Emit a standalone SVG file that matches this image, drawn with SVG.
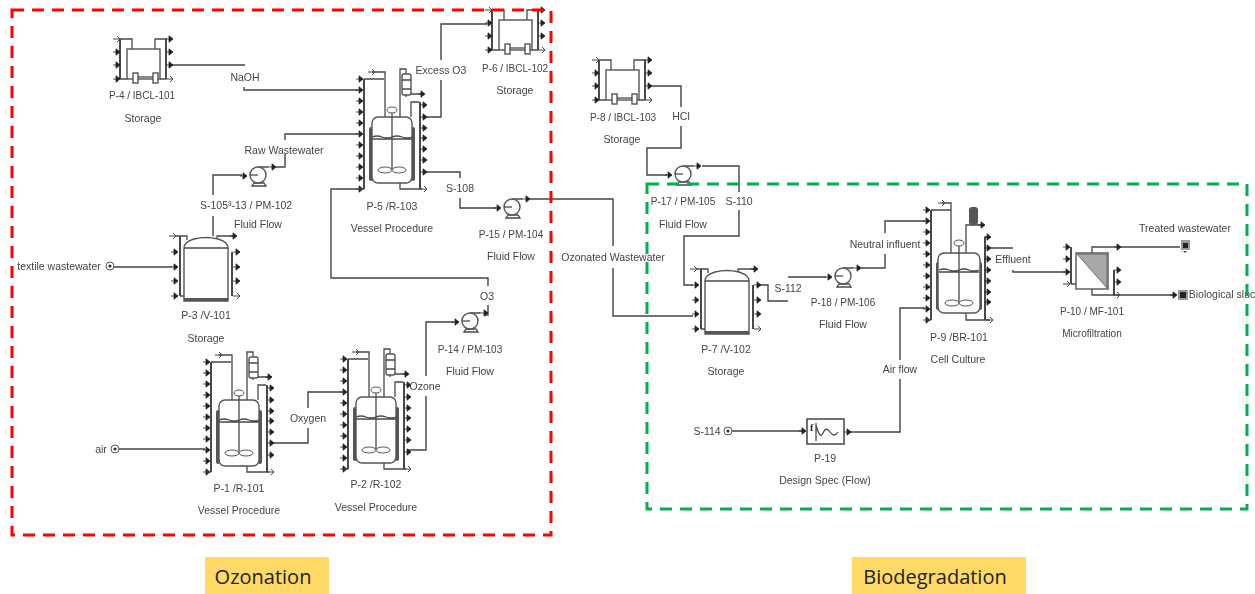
<svg xmlns="http://www.w3.org/2000/svg" width="1255" height="594" viewBox="0 0 1255 594">
<style>
.p{fill:none;stroke:#4a4a4a;stroke-width:1.3}
.pb{fill:none;stroke:#4a4a4a;stroke-width:2}
.c{fill:none;stroke:#444;stroke-width:1.4}
.b{fill:#fff;stroke:#555;stroke-width:1.4}
.d{fill:#555;stroke:none}
.t{font-family:"Liberation Sans",Arial,sans-serif;font-size:10.5px;fill:#444;text-anchor:middle}
.id{font-size:10px}
.hd{font-family:"Open Sans","Noto Sans",sans-serif;font-size:20px;fill:#222;text-anchor:middle}
.box{fill:none;stroke-width:3;stroke-dasharray:12 8}
</style>
<defs>
<filter id="soft" x="-2%" y="-2%" width="104%" height="104%"><feGaussianBlur stdDeviation="0.4"/></filter>
<path id="a" d="M-4,0H0M-1,-3.2L3,0L-1,3.2Z" fill="#222" stroke="#222" stroke-width="0.8"/>
<path id="h" d="M-4,0H2M0,-3L3,0L0,3" fill="none" stroke="#444" stroke-width="1"/>
<g id="leftcol">
<path class="pb" d="M4,0V110"/>
<use href="#a" y="0"/><use href="#a" y="11"/><use href="#a" y="22"/><use href="#a" y="33"/><use href="#a" y="44"/><use href="#a" y="55"/><use href="#a" y="66"/><use href="#a" y="77"/><use href="#a" y="88"/><use href="#a" y="99"/><use href="#a" y="110"/>
<path class="p" d="M4,0H24M4,110H0"/>
</g>
<g id="inner">
<path class="p" d="M0,-7V52M-20,20q5,-2 10,0t10,0t10,0t10,0M-20,22H20"/>
<ellipse cx="0" cy="-7" rx="5" ry="3" fill="#fff" stroke="#555"/>
<ellipse cx="-7" cy="53" rx="7" ry="3" fill="#fff" stroke="#555"/>
<ellipse cx="7" cy="53" rx="7" ry="3" fill="#fff" stroke="#555"/>
</g>
<g id="reactor">
<use href="#leftcol" x="-32" y="-38"/>
<use href="#h" x="-20" y="-45"/>
<path class="p" d="M-20,-45H-7V0"/>
<rect class="d" x="-23" y="10" width="4" height="54" rx="2"/>
<rect class="d" x="19" y="10" width="4" height="54" rx="2"/>
<rect class="b" x="-20" y="0" width="40" height="66" rx="6"/>
<use href="#inner"/>
<path class="p" d="M8,0V-48H14V-43M14,-22V-20M14,-23H30M19,0V-15H27M8,66V72H30"/>
<path class="pb" d="M28,-15V72"/>
<rect class="b" x="10" y="-43" width="9" height="21" rx="2"/>
<path class="p" d="M10,-37H19M10,-28H19"/>
<use href="#a" x="30" y="-23"/>
<use href="#a" x="32" y="-12"/><use href="#a" x="32" y="0"/><use href="#a" x="32" y="11"/><use href="#a" x="32" y="21"/><use href="#a" x="32" y="32"/><use href="#a" x="32" y="43"/><use href="#a" x="32" y="55"/>
<use href="#h" x="32" y="72"/>
</g>
<g id="tote">
<path class="pb" d="M-7,-10V30M39,-10V30"/>
<path class="p" d="M-8,-10H5V0M40,-10H28V0M-7,30H0M33,30H39"/>
<rect class="b" x="0" y="0" width="33" height="30"/>
<rect class="b" x="6" y="24" width="5" height="10"/>
<rect class="b" x="26" y="24" width="5" height="10"/>
<path class="p" d="M11,28H26"/>
<use href="#h" x="-10" y="-10"/><use href="#a" x="-10" y="3"/><use href="#a" x="-10" y="16"/><use href="#a" x="-10" y="30"/>
<use href="#a" x="43" y="-10"/><use href="#a" x="43" y="3"/><use href="#a" x="43" y="16"/><use href="#h" x="43" y="30"/>
</g>
<g id="tank">
<path class="pb" d="M-4,0V60M48,16V60"/>
<path class="p" d="M-8,0H3V4M33,4V0H50M-4,60H0"/>
<path class="b" d="M0,65V12Q0,6 10,3Q22,0 34,3Q44,6 44,12V65Z"/>
<path class="p" d="M0,12H44"/>
<rect class="d" x="0" y="62" width="44" height="3"/>
<use href="#h" x="-11" y="0"/><use href="#a" x="-9" y="16"/><use href="#a" x="-9" y="31"/><use href="#a" x="-9" y="45"/><use href="#a" x="-9" y="60"/>
<use href="#a" x="50" y="0"/><use href="#a" x="53" y="16"/><use href="#a" x="53" y="31"/><use href="#a" x="53" y="45"/><use href="#h" x="53" y="60"/>
</g>
<g id="pump">
<path class="p" d="M-6,11H8L6,8H-4ZM0,-8H10V-9"/>
<circle class="b" cx="0" cy="0" r="8"/>
<path class="p" d="M-8,0H0"/>
<use href="#a" x="-14" y="1"/>
<use href="#a" x="15" y="-8"/>
</g>
<g id="src"><circle cx="0" cy="0" r="4" fill="#fff" stroke="#555"/><circle cx="0" cy="0" r="1.6" fill="#333"/></g>
</defs>

<g filter="url(#soft)">
<g id="connectors">
<path class="c" d="M170,65H245M244,87V90H358"/>
<path class="c" d="M213,236V216M213,195V175H242M276,167H285V154M285,140V134H358"/>
<path class="c" d="M114,267H172"/>
<path class="c" d="M358,189H331V278H488V286M488,305V315H484"/>
<path class="c" d="M424,117H441V80M441,60V24H487"/>
<path class="c" d="M424,172H460V178M460,198V208H496"/>
<path class="c" d="M530,199H613V246M613,268V316H693"/>
<path class="c" d="M649,86H681V107M681,126V148H647V175H667"/>
<path class="c" d="M702,166H739V192M739,210V236H684V285H693"/>
<path class="c" d="M757,285H768V301H788M788,277H826"/>
<path class="c" d="M861,268H885V254M885,233V221H925"/>
<path class="c" d="M925,308H900V360M900,379V432H850"/>
<path class="c" d="M732,431H805"/>
<path class="c" d="M988,248H1013M1013,270V272H1066"/>
<path class="c" d="M119,449H205"/>
<path class="c" d="M271,443H308V428M308,408V392H342"/>
<path class="c" d="M408,450H426V396M426,376V322H454"/>
<path class="c" d="M1118,247H1180M1118,295H1176"/>
</g>

<g id="P-4"><use href="#tote" x="127" y="49"/><text class="t id" x="142" y="99">P-4 / IBCL-101</text><text class="t" x="143" y="122">Storage</text></g>
<g id="P-6"><use href="#tote" x="499" y="20"/><text class="t id" x="515" y="72">P-6 / IBCL-102</text><text class="t" x="515" y="94">Storage</text></g>
<g id="P-8"><use href="#tote" x="606" y="70"/><text class="t id" x="623" y="121">P-8 / IBCL-103</text><text class="t" x="622" y="143">Storage</text></g>
<g id="P-5"><use href="#reactor" x="392" y="117"/><text class="t" x="392" y="210">P-5 /R-103</text><text class="t" x="392" y="232">Vessel Procedure</text></g>
<g id="P-1"><use href="#reactor" x="239" y="400"/><text class="t" x="239" y="492">P-1 /R-101</text><text class="t" x="239" y="514">Vessel Procedure</text></g>
<g id="P-2"><use href="#reactor" x="376" y="397"/><text class="t" x="376" y="488">P-2 /R-102</text><text class="t" x="376" y="511">Vessel Procedure</text></g>
<g id="P-3"><use href="#tank" x="184" y="236"/><text class="t" x="206" y="319">P-3 /V-101</text><text class="t" x="206" y="342">Storage</text></g>
<g id="P-7"><use href="#tank" x="705" y="269"/><text class="t" x="726" y="353">P-7 /V-102</text><text class="t" x="726" y="375">Storage</text></g>
<g id="P-13"><use href="#pump" x="258" y="175"/><text class="t" style="text-anchor:start" x="200" y="209">S-105³-13 / PM-102</text><text class="t" x="258" y="228">Fluid Flow</text></g>
<g id="P-15"><use href="#pump" x="512" y="207"/><text class="t id" x="511" y="238">P-15 / PM-104</text><text class="t" x="511" y="260">Fluid Flow</text></g>
<g id="P-14"><use href="#pump" x="470" y="321"/><text class="t id" x="470" y="353">P-14 / PM-103</text><text class="t" x="470" y="375">Fluid Flow</text></g>
<g id="P-17"><use href="#pump" x="683" y="174"/><text class="t id" x="683" y="205">P-17 / PM-105</text><text class="t" x="683" y="228">Fluid Flow</text></g>
<g id="P-18"><use href="#pump" x="843" y="276"/><text class="t id" x="843" y="306">P-18 / PM-106</text><text class="t" x="843" y="328">Fluid Flow</text></g>
<g id="P-9">
<use href="#leftcol" x="927" y="210"/>
<use href="#h" x="942" y="203"/>
<path class="p" d="M942,203H951V253M966,253V225H982M966,313V320H990M985,237H990"/>
<path class="pb" d="M985,237V320"/>
<rect class="d" x="936" y="262" width="4" height="48" rx="2"/><rect class="d" x="978" y="262" width="4" height="48" rx="2"/>
<rect class="b" x="938" y="253" width="42" height="60" rx="6"/>
<use href="#inner" x="959" y="250"/>
<rect class="d" x="969" y="207" width="9" height="18" rx="3"/>
<use href="#a" x="982" y="225"/>
<use href="#a" x="988" y="237"/><use href="#a" x="988" y="248"/><use href="#a" x="988" y="259"/><use href="#a" x="988" y="270"/><use href="#a" x="988" y="281"/><use href="#a" x="988" y="292"/><use href="#a" x="988" y="302"/><use href="#h" x="990" y="320"/>
<text class="t" x="959" y="341">P-9 /BR-101</text><text class="t" x="958" y="363">Cell Culture</text>
</g>
<g id="P-10">
<path class="pb" d="M1071,247V284M1114,270V295"/>
<path class="p" d="M1071,284H1076M1092,253V247H1118M1092,289V295H1118"/>
<rect class="b" x="1076" y="253" width="32" height="36"/>
<path d="M1077,254H1107V288Z" fill="#a8a8a8" stroke="#555" stroke-width="0.8"/>
<use href="#a" x="1067" y="247"/><use href="#a" x="1067" y="259"/><use href="#a" x="1067" y="272"/><use href="#h" x="1067" y="284"/>
<use href="#a" x="1118" y="247"/><use href="#a" x="1118" y="270"/><use href="#a" x="1118" y="282"/><use href="#h" x="1117" y="295"/>
<text class="t id" x="1092" y="315">P-10 / MF-101</text><text class="t id" x="1092" y="337">Microfiltration</text>
</g>
<g id="P-19">
<rect x="807" y="419" width="37" height="25" fill="#fff" stroke="#444" stroke-width="1.5"/>
<text x="810" y="431" style="font-family:'Liberation Serif',serif;font-size:10px;font-weight:bold;fill:#222">f</text>
<path class="p" d="M816,423V441M816,425Q820,440 823,433T830,432T838,432"/>
<use href="#a" x="803" y="431"/><use href="#a" x="848" y="432"/>
<text class="t" x="825" y="462">P-19</text><text class="t" x="825" y="484">Design Spec (Flow)</text>
</g>
<g id="S-textile"><use href="#src" x="110" y="266"/></g>
<g id="S-air"><use href="#src" x="115" y="449"/></g>
<g id="S-114"><use href="#src" x="728" y="431"/></g>
<g id="sink-treated"><rect x="1181" y="240" width="9" height="10" fill="#999"/><rect x="1183" y="243" width="5" height="5" fill="#222"/><path d="M1183,251h4l-2,2z" fill="#444"/></g>
<g id="sink-sludge"><rect x="1178" y="290" width="10" height="10" fill="#999"/><rect x="1180" y="292" width="6" height="6" fill="#222"/><use href="#a" x="1174" y="295"/></g>

<g id="labels">
<text class="t" x="245" y="81">NaOH</text>
<text class="t" x="284" y="154">Raw Wastewater</text>
<text class="t" x="59" y="270">textile wastewater</text>
<text class="t" x="441" y="74">Excess O3</text>
<text class="t" x="460" y="192">S-108</text>
<text class="t" x="487" y="300">O3</text>
<text class="t" x="308" y="422">Oxygen</text>
<text class="t" x="425" y="390">Ozone</text>
<text class="t" x="101" y="453">air</text>
<text class="t" x="613" y="261">Ozonated Wastewater</text>
<text class="t" x="681" y="120">HCl</text>
<text class="t" x="739" y="205">S-110</text>
<text class="t" x="788" y="292">S-112</text>
<text class="t" x="885" y="248">Neutral influent</text>
<text class="t" x="900" y="373">Air flow</text>
<text class="t" x="707" y="435">S-114</text>
<text class="t" x="1013" y="263">Effluent</text>
<text class="t" x="1185" y="232">Treated wastewater</text>
<text class="t" x="1222" y="298">Biological sluc</text>
</g>
</g>

<rect id="ozonation-box" class="box" x="12" y="10" width="539" height="525" stroke="#ff0000"/>
<rect id="biodegradation-box" class="box" x="647" y="184" width="600" height="325" stroke="#00b050"/>
<g id="ozonation-label"><rect x="205" y="557" width="124" height="37" fill="#ffd966"/><text class="hd" x="263" y="584">Ozonation</text></g>
<g id="biodegradation-label"><rect x="852" y="557" width="174" height="37" fill="#ffd966"/><text class="hd" x="935" y="584">Biodegradation</text></g>
</svg>
